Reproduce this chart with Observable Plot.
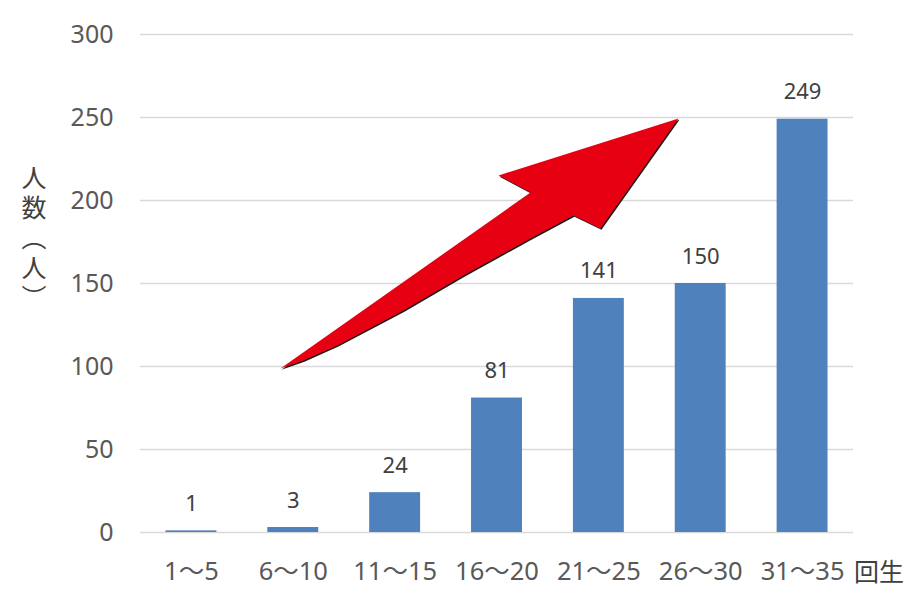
<!DOCTYPE html>
<html><head><meta charset="utf-8">
<script src="https://cdn.jsdelivr.net/npm/d3@7"></script>
<script src="https://cdn.jsdelivr.net/npm/@observablehq/plot@0.6"></script>
<style>
body{margin:0;background:#fff;font-family:"Noto Sans","Noto Sans CJK JP",sans-serif;}
#wrap{position:relative;width:924px;height:605px;}
#ylab{position:absolute;left:21px;top:165px;writing-mode:vertical-rl;font-size:25px;line-height:1;letter-spacing:5px;color:#404040;font-family:"Noto Sans CJK JP",sans-serif;}
</style></head>
<body><div id="wrap"><div id="ylab">人数（人）</div></div>
<script>
const categories = ["1〜5","6〜10","11〜15","16〜20","21〜25","26〜30","31〜35"];
const counts = [1,3,24,81,141,150,249];
const yTicks = [0,50,100,150,200,250,300];
const unitLabel = "回生";
const arrowX = [0.874,3.329,3.015,4.782,4.016,3.751,3.329,2.671,2.082,1.434,1.100,0.874];
const arrowY = [98.8,204.8,215.1,249.4,183.1,191.0,177.1,154.8,133.7,112.7,103.6,98.8];

const bars = categories.map((c,i)=>({c, i, v: counts[i]}));
const arrow = arrowX.map((x,k)=>({x, y: arrowY[k]}));
const ff = '"Noto Sans","Noto Sans CJK JP",sans-serif';

const chart = Plot.plot({
  width: 924, height: 605,
  marginLeft: 140, marginRight: 71, marginTop: 34, marginBottom: 73,
  style: {fontFamily: ff, fontSize: "22px", color: "#595959", background: "#fff"},
  x: {domain: [-0.5, 6.5], axis: null},
  y: {domain: [0, 300], axis: null},
  marks: [
    Plot.ruleY(yTicks, {stroke: "#d9d9d9", strokeWidth: 1.5}),
    Plot.axisY(yTicks, {tickSize: 0, tickPadding: 27, fontSize: 25, fill: "#595959", label: null}),
    Plot.axisX(d3.range(categories.length), {tickSize: 0, tickPadding: 29, fontSize: 25.5, fill: "#595959", tickFormat: i => categories[i], label: null}),
    Plot.rectY(bars, {x1: d => d.i - 0.25, x2: d => d.i + 0.25, y: "v", fill: "#4f81bd"}),
    Plot.text(bars, {x: "i", y: "v", text: d => String(d.v), lineAnchor: "middle", dy: -27, fontSize: 22, fill: "#404040"}),
    Plot.text([unitLabel], {x: 6.75, y: 0, text: d => d, dy: 40, fontSize: 25, fill: "#404040", fontFamily: '"Noto Sans CJK JP",sans-serif'}),
    Plot.line(arrow, {x: "x", y: "y", fill: "#1a1a1a", stroke: "none", dx: 1, dy: 1.2}),
    Plot.line(arrow, {x: "x", y: "y", fill: "#e60012", stroke: "none"})
  ]
});
document.getElementById("wrap").appendChild(chart);
</script>
</body></html>
